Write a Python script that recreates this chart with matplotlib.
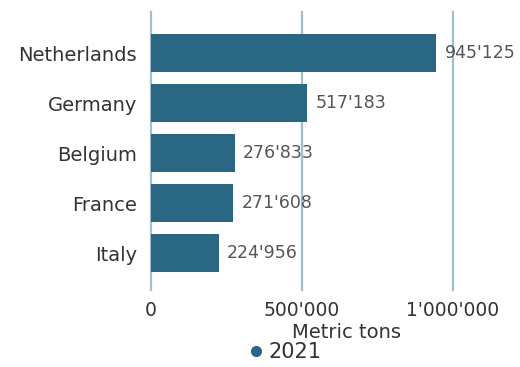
import matplotlib.pyplot as plt
from matplotlib.ticker import FuncFormatter
from matplotlib.lines import Line2D

countries = ['Netherlands', 'Germany', 'Belgium', 'France', 'Italy']
tons_2021 = [945125, 517183, 276833, 271608, 224956]
xticks = [0, 500000, 1000000]

bar_color = '#2a6782'
grid_color = '#9fbfcf'
text_color = '#333333'


def swiss(v, pos=None):
    return f'{int(v):,}'.replace(',', "'")


plt.rcParams['font.family'] = 'DejaVu Sans'

fig = plt.figure(figsize=(5.2, 3.67), dpi=100)
ax = fig.add_axes([0.2904, 0.2098, 0.6962, 0.757])

ypos = list(range(len(countries)))
for x in xticks:
    ax.axvline(x, color=grid_color, lw=1.6, zorder=0, clip_on=False)
bars = ax.barh(ypos, tons_2021, height=0.75, color=bar_color, zorder=2)
ax.bar_label(bars, labels=[swiss(v) for v in tons_2021], padding=6,
             fontsize=12.5, color='#555555')

ax.set_xlim(0, 1200000)
ax.set_ylim(4.74, -0.82)
ax.set_xticks(xticks)
ax.xaxis.set_major_formatter(FuncFormatter(swiss))
ax.set_yticks(ypos)
ax.set_yticklabels(countries)
ax.tick_params(length=0, labelcolor=text_color)
ax.tick_params(axis='x', pad=8, labelsize=13.5)
ax.tick_params(axis='y', pad=10, labelsize=14)
for s in ax.spines.values():
    s.set_visible(False)

ax.set_xlabel('Metric tons', fontsize=14, color=text_color, labelpad=1)
ax.xaxis.set_label_coords(0.54, -0.12)

handle = Line2D([], [], marker='o', ls='', color=bar_color, markersize=7)
fig.legend([handle], ['2021'], loc='center', bbox_to_anchor=(0.55, 0.04),
           frameon=False, fontsize=15, handlelength=0.6, handletextpad=0.3,
           borderpad=0, labelcolor=text_color)

fig.savefig('out.png', dpi=100)
